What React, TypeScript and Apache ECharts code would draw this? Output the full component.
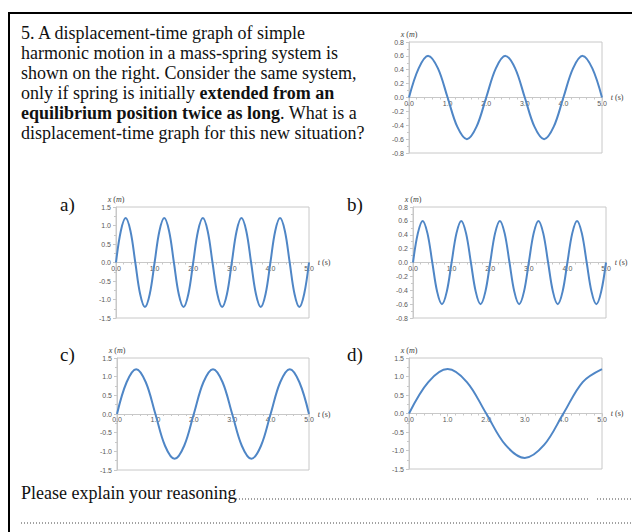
import React, { useEffect, useRef } from "react";
import * as echarts from "echarts";

// ---- data ----
// original system: amplitude 0.6 m, period 2 s
const T_MAIN = [0, 0.25, 0.5, 0.75, 1, 1.25, 1.5, 1.75, 2, 2.25, 2.5, 2.75, 3, 3.25, 3.5, 3.75, 4, 4.25, 4.5, 4.75, 5];
const X_MAIN = [0, 0.42, 0.6, 0.42, 0, -0.42, -0.6, -0.42, 0, 0.42, 0.6, 0.42, 0, -0.42, -0.6, -0.42, 0, 0.42, 0.6, 0.42, 0];
// a) amplitude 1.2 m, period 1 s
const T_A = [
  0, 0.125, 0.25, 0.375, 0.5, 0.625, 0.75, 0.875, 1, 1.125, 1.25, 1.375, 1.5, 1.625, 1.75, 1.875,
  2, 2.125, 2.25, 2.375, 2.5, 2.625, 2.75, 2.875, 3, 3.125, 3.25, 3.375, 3.5, 3.625, 3.75, 3.875,
  4, 4.125, 4.25, 4.375, 4.5, 4.625, 4.75, 4.875, 5,
];
const X_A = [
  0, 0.85, 1.2, 0.85, 0, -0.85, -1.2, -0.85, 0, 0.85, 1.2, 0.85, 0, -0.85, -1.2, -0.85,
  0, 0.85, 1.2, 0.85, 0, -0.85, -1.2, -0.85, 0, 0.85, 1.2, 0.85, 0, -0.85, -1.2, -0.85,
  0, 0.85, 1.2, 0.85, 0, -0.85, -1.2, -0.85, 0,
];
// b) amplitude 0.6 m, period 1 s
const T_B = [
  0, 0.125, 0.25, 0.375, 0.5, 0.625, 0.75, 0.875, 1, 1.125, 1.25, 1.375, 1.5, 1.625, 1.75, 1.875,
  2, 2.125, 2.25, 2.375, 2.5, 2.625, 2.75, 2.875, 3, 3.125, 3.25, 3.375, 3.5, 3.625, 3.75, 3.875,
  4, 4.125, 4.25, 4.375, 4.5, 4.625, 4.75, 4.875, 5,
];
const X_B = [
  0, 0.42, 0.6, 0.42, 0, -0.42, -0.6, -0.42, 0, 0.42, 0.6, 0.42, 0, -0.42, -0.6, -0.42,
  0, 0.42, 0.6, 0.42, 0, -0.42, -0.6, -0.42, 0, 0.42, 0.6, 0.42, 0, -0.42, -0.6, -0.42,
  0, 0.42, 0.6, 0.42, 0, -0.42, -0.6, -0.42, 0,
];
// c) amplitude 1.2 m, period 2 s
const T_C = [0, 0.25, 0.5, 0.75, 1, 1.25, 1.5, 1.75, 2, 2.25, 2.5, 2.75, 3, 3.25, 3.5, 3.75, 4, 4.25, 4.5, 4.75, 5];
const X_C = [0, 0.85, 1.2, 0.85, 0, -0.85, -1.2, -0.85, 0, 0.85, 1.2, 0.85, 0, -0.85, -1.2, -0.85, 0, 0.85, 1.2, 0.85, 0];
// d) amplitude 1.2 m, period 4 s
const T_D = [0, 0.5, 1, 1.5, 2, 2.5, 3, 3.5, 4, 4.5, 5];
const X_D = [0, 0.85, 1.2, 0.85, 0, -0.85, -1.2, -0.85, 0, 0.85, 1.2];

// axis ranges
const X_MIN = 0, X_MAX = 5, X_STEP = 1;
const Y_SMALL = { min: -0.8, max: 0.8, step: 0.2 };
const Y_LARGE = { min: -1.5, max: 1.5, step: 0.5 };

// question text
const QUESTION_LINES = [
  "5. A displacement-time graph of simple",
  "harmonic motion in a mass-spring system is",
  "shown on the right. Consider the same system,",
  "only if spring is initially {b|extended from an}",
  "{b|equilibrium position twice as long}. What is a",
  "displacement-time graph for this new situation?",
];
const OPTION_LABELS = ["a)", "b)", "c)", "d)"];
const EXPLAIN = "Please explain your reasoning";

const SERIES = [
  { t: T_MAIN, x: X_MAIN, y: Y_SMALL },
  { t: T_A, x: X_A, y: Y_LARGE },
  { t: T_B, x: X_B, y: Y_SMALL },
  { t: T_C, x: X_C, y: Y_LARGE },
  { t: T_D, x: X_D, y: Y_LARGE },
];

// layout (px)
const GRIDS = [
  { left: 409, top: 42, width: 193, height: 111 },
  { left: 116, top: 207, width: 193, height: 111 },
  { left: 413, top: 207, width: 193, height: 111 },
  { left: 117, top: 358, width: 192, height: 112 },
  { left: 409, top: 358, width: 193, height: 111 },
];
const LABEL_POS = [
  [60, 204],
  [347, 204],
  [60, 354],
  [347, 354],
];

const SERIF = "'Liberation Serif', 'Times New Roman', serif";
const SANS = "'Liberation Sans', Arial, sans-serif";
const LINE_COLOR = "#4f86c6";
const AXIS_COLOR = "#c8c8c8";
const LABEL_COLOR = "#595959";

export default function App() {
  const ref = useRef<HTMLDivElement>(null);

  useEffect(() => {
    if (!ref.current) return;
    const chart = echarts.init(ref.current, undefined, { renderer: "svg" });

    const nameRich = {
      i: { fontStyle: "italic", fontFamily: SERIF, fontSize: 8, color: "#404040" },
      n: { fontFamily: SERIF, fontSize: 8, color: "#404040" },
    };

    const xAxis = SERIES.map((_, i) => ({
      gridIndex: i,
      type: "value",
      min: X_MIN,
      max: X_MAX,
      interval: X_STEP,
      position: "bottom",
      offset: -GRIDS[i].height / 2,
      axisLine: { show: true, onZero: false, lineStyle: { color: AXIS_COLOR, width: 1 } },
      axisTick: { show: true, length: 3, lineStyle: { color: AXIS_COLOR } },
      minorTick: { show: true, splitNumber: 5, length: 2, lineStyle: { color: AXIS_COLOR } },
      splitLine: { show: false },
      axisLabel: {
        formatter: (v: number) => v.toFixed(1),
        fontSize: 7,
        fontFamily: SANS,
        color: LABEL_COLOR,
        margin: 2,
        showMinLabel: true,
        showMaxLabel: true,
      },
      name: "{i|t}{n| (s)}",
      nameLocation: "end",
      nameGap: 2,
      nameTextStyle: { rich: nameRich, align: "left", verticalAlign: "middle" },
    }));

    const yAxis = SERIES.map((s, i) => ({
      gridIndex: i,
      type: "value",
      min: s.y.min,
      max: s.y.max,
      interval: s.y.step,
      axisLine: { show: true, lineStyle: { color: AXIS_COLOR, width: 1 } },
      axisTick: { show: true, length: 3, lineStyle: { color: AXIS_COLOR } },
      minorTick: { show: true, splitNumber: 2, length: 2, lineStyle: { color: AXIS_COLOR } },
      splitLine: { show: false },
      axisLabel: {
        formatter: (v: number) => v.toFixed(1),
        fontSize: 7,
        fontFamily: SANS,
        color: LABEL_COLOR,
        margin: 5,
        showMinLabel: true,
        showMaxLabel: true,
      },
      name: "{i|x}{n| (}{i|m}{n|)}",
      nameLocation: "end",
      nameGap: 4,
      nameTextStyle: { rich: nameRich, align: "center" },
    }));

    const series = SERIES.map((s, i) => ({
      type: "line",
      xAxisIndex: i,
      yAxisIndex: i,
      data: s.t.map((t, k) => [t, s.x[k]]),
      smooth: 0.35,
      showSymbol: false,
      symbol: "none",
      lineStyle: { color: LINE_COLOR, width: 2 },
      silent: true,
    }));

    const grid = GRIDS.map((g) => ({
      ...g,
      show: true,
      borderColor: AXIS_COLOR,
      borderWidth: 1,
      backgroundColor: "transparent",
      containLabel: false,
    }));

    const graphic: any[] = [];
    // frame
    graphic.push({
      type: "line",
      shape: { x1: 8, y1: 13, x2: 632, y2: 13 },
      style: { stroke: "#000", lineWidth: 2 },
    });
    graphic.push({
      type: "line",
      shape: { x1: 9, y1: 12, x2: 9, y2: 532 },
      style: { stroke: "#000", lineWidth: 2 },
    });
    QUESTION_LINES.forEach((line, i) => {
      graphic.push({
        type: "text",
        x: 21,
        y: 33 + i * 20,
        style: {
          text: line,
          fontFamily: SERIF,
          fontSize: 18,
          fill: "#111",
          verticalAlign: "middle",
          align: "left",
          rich: {
            b: { fontFamily: SERIF, fontSize: 18, fontWeight: "bold", fill: "#111" },
          },
        },
      });
    });
    OPTION_LABELS.forEach((lab, i) => {
      graphic.push({
        type: "text",
        x: LABEL_POS[i][0],
        y: LABEL_POS[i][1],
        style: {
          text: lab,
          fontFamily: SERIF,
          fontSize: 19,
          fill: "#111",
          verticalAlign: "middle",
          align: "left",
        },
      });
    });
    graphic.push({
      type: "text",
      x: 21,
      y: 493,
      style: {
        text: EXPLAIN,
        fontFamily: SERIF,
        fontSize: 18,
        fill: "#111",
        verticalAlign: "middle",
        align: "left",
      },
    });
    const dotted = (x1: number, x2: number, y: number) => ({
      type: "line",
      shape: { x1, y1: y, x2, y2: y },
      style: { stroke: "#444", lineWidth: 1, lineDash: [1, 2] },
    });
    graphic.push(dotted(236, 590, 499));
    graphic.push(dotted(597, 632, 499));
    graphic.push(dotted(21, 632, 523));

    chart.setOption({
      animation: false,
      backgroundColor: "#fff",
      grid,
      xAxis,
      yAxis,
      series,
      graphic,
    } as any);

    return () => chart.dispose();
  }, []);

  return (
    <div
      ref={ref}
      style={{ position: "absolute", left: 0, top: 0, width: 632, height: 532 }}
    />
  );
}
